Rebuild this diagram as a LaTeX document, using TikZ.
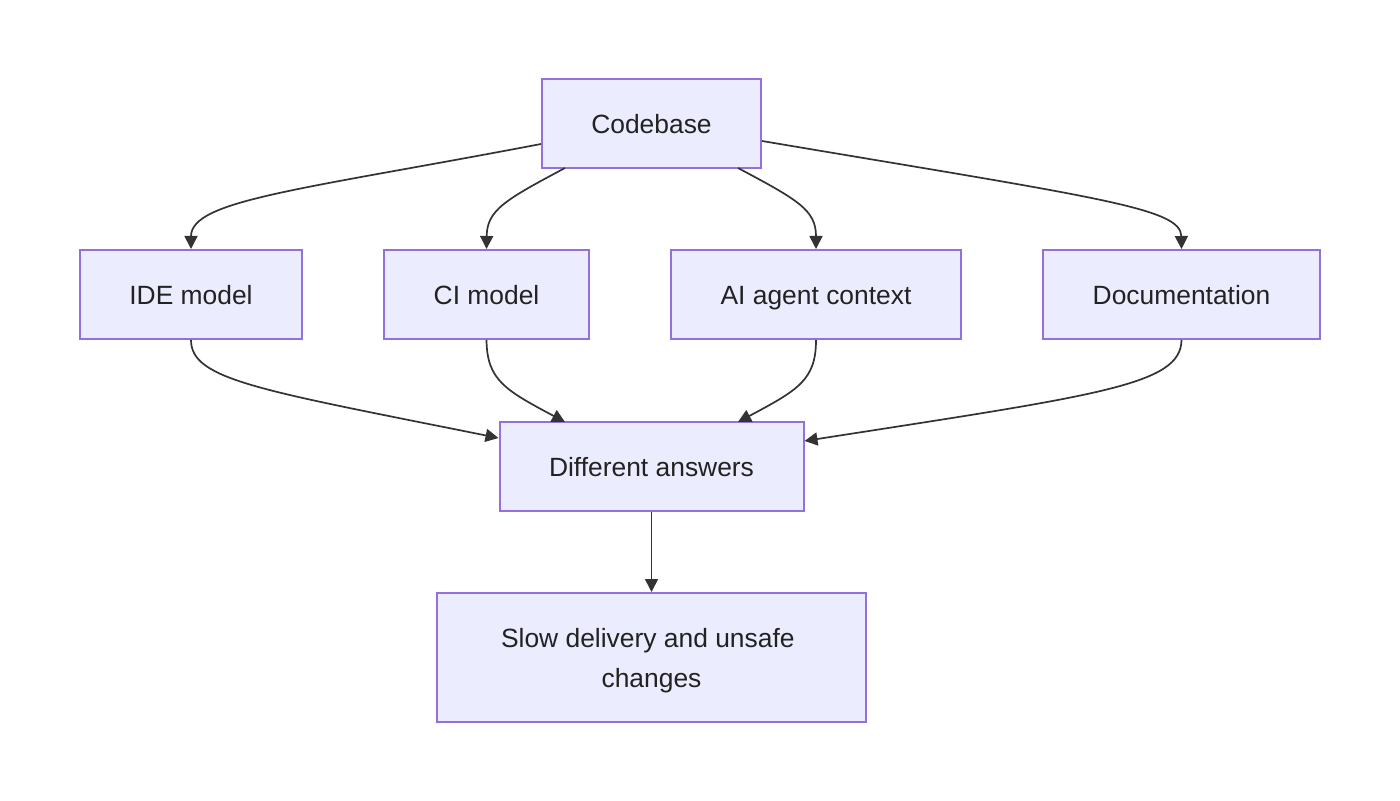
\documentclass[tikz,border=0pt]{standalone}
\usepackage{fontspec}
\setmainfont{Liberation Sans}
\usetikzlibrary{arrows.meta}
\definecolor{nodefill}{HTML}{ECECFF}
\definecolor{nodeborder}{HTML}{9370DB}
\definecolor{edgecol}{HTML}{333333}
\definecolor{txtcol}{HTML}{222222}
\begin{document}
\begin{tikzpicture}[x=0.5pt,y=-0.5pt,
  box/.style={draw=nodeborder,fill=nodefill,line width=1pt,inner sep=0pt,
    text=txtcol,font=\fontsize{13.2pt}{20pt}\selectfont,align=center},
  oneline/.style={box,text height=1.05em,text depth=0.08em,minimum height=44.5pt},
  edge/.style={draw=edgecol,line width=0.85pt,-{Triangle[length=6.5pt,width=6.5pt]}}]
\useasboundingbox[fill=white] (0,0) rectangle (1400,801);
\node[oneline,minimum width=109.5pt] (cb) at (651.5,123.5) {Codebase};
\node[oneline,minimum width=111pt] (ide) at (191,294.5) {IDE model};
\node[oneline,minimum width=102.5pt] (ci) at (486.5,294.5) {CI model};
\node[oneline,minimum width=145pt] (ai) at (816,294.5) {AI agent context};
\node[oneline,minimum width=138.5pt] (doc) at (1181.5,294.5) {Documentation};
\node[oneline,minimum width=152pt] (diff) at (651.5,466.5) {Different answers};
\node[box,minimum width=214.5pt,minimum height=64.5pt] (slow) at (651.5,657.5) {};
\node[text=txtcol,font=\fontsize{13.2pt}{20pt}\selectfont,align=center,inner sep=0pt] (slowtxt) at (651.5,660.5) {Slow delivery and unsafe\hspace*{0.278em}\\changes};
% top fan-out
\draw[edge] (cb.west |- 0,144) .. controls (300,190) and (191,200) .. (ide.north);
\draw[edge] (565,168) .. controls (505,200) and (487,210) .. (ci.north);
\draw[edge] (738,168) .. controls (798,200) and (816,210) .. (ai.north);
\draw[edge] (cb.east |- 0,141) .. controls (1100,198) and (1181,208) .. (doc.north);
% fan-in
\draw[edge] (ide.south) .. controls (191,380) and (260,390) .. (diff.west |- 0,438);
\draw[edge] (ci.south) .. controls (487,380) and (505,390) .. (565,422);
\draw[edge] (ai.south) .. controls (816,380) and (798,390) .. (738,422);
\draw[edge] (doc.south) .. controls (1181,385) and (1100,395) .. (diff.east |- 0,441);
\draw[edge] (diff.south) -- (slow.north);
\end{tikzpicture}
\end{document}
